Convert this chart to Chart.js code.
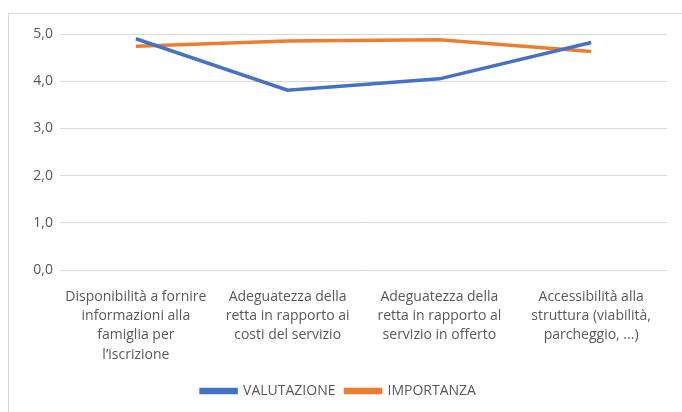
<!DOCTYPE html>
<html>
<head>
<meta charset="utf-8">
<script src="https://cdn.jsdelivr.net/npm/chart.js@4"></script>
<style>
  body { margin: 0; background: #fff; overflow: hidden; }
  #frame { position: absolute; left: 8px; top: 13px; width: 700px; height: 420px; border: 1px solid #d9d9d9; }
  #wrap { position: absolute; left: 0; top: 0; width: 682px; height: 412px; }
</style>
</head>
<body>
<div id="frame"></div>
<div id="wrap"><canvas id="myChart"></canvas></div>
<script>
// categories, wrapped like in the original
const categories = [
  ["Disponibilità a fornire", "informazioni alla", "famiglia per", "l’iscrizione"],
  ["Adeguatezza della", "retta in rapporto ai", "costi del servizio"],
  ["Adeguatezza della", "retta in rapporto al", "servizio in offerto"],
  ["Accessibilità alla", "struttura (viabilità,", "parcheggio, ...)"]
];
const valutazione = [4.90, 3.81, 4.05, 4.82];
const importanza = [4.74, 4.85, 4.88, 4.63];

const fontFam = "'Open Sans', sans-serif";

window.onload = () => {
  var ctx = document.getElementById("myChart").getContext("2d");
  new Chart(ctx, {
    type: "line",
    data: {
      labels: categories,
      datasets: [{
        label: "VALUTAZIONE",
        data: valutazione,
        borderColor: "#4472C4",
        backgroundColor: "#4472C4",
        borderWidth: 3.5,
        pointRadius: 0,
        tension: 0
      }, {
        label: "IMPORTANZA",
        data: importanza,
        borderColor: "#ED7D31",
        backgroundColor: "#ED7D31",
        borderWidth: 3.5,
        pointRadius: 0,
        tension: 0
      }]
    },
    options: {
      responsive: true,
      maintainAspectRatio: false,
      animation: false,
      layout: { padding: { left: 10, right: 15, top: 34, bottom: 4 } },
      plugins: {
        tooltip: { enabled: false },
        legend: {
          position: "bottom",
          labels: {
            boxWidth: 35,
            boxHeight: 3,
            color: "#595959",
            font: { family: fontFam, size: 14 },
            padding: 10
          }
        }
      },
      scales: {
        x: {
          offset: true,
          grid: { display: false },
          border: { display: false },
          ticks: {
            color: "#595959",
            font: { family: fontFam, size: 14, lineHeight: 1.38 },
            maxRotation: 0,
            autoSkip: false,
            padding: 9
          },
          afterFit: (s) => { s.height = 104; }
        },
        y: {
          min: 0,
          max: 5,
          grid: { color: "#d9d9d9", drawTicks: false },
          border: { display: false },
          ticks: {
            stepSize: 1,
            color: "#595959",
            font: { family: fontFam, size: 14 },
            padding: 7,
            callback: (v) => v.toFixed(1).replace(".", ",")
          },
          afterFit: (s) => { s.width = 50; }
        }
      }
    }
  });
};
</script>
</body>
</html>
